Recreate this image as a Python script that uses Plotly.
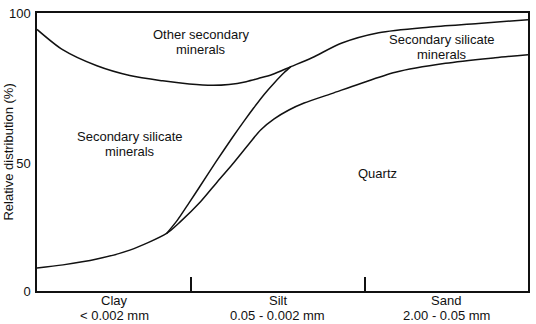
import plotly.graph_objects as go

# Boundary curves (x: relative position along particle-size axis 0-100, y: relative distribution %)
top_x = [0, 5.3, 12.2, 18.9, 25.6, 31.0, 35.7, 39.1, 42.6, 45.2, 47.9, 51.7, 56.0, 62.1, 69.6, 79.7, 89.9, 100]
top_y = [94.1, 86.7, 81.0, 77.5, 75.6, 74.5, 74.0, 74.3, 75.3, 76.5, 77.9, 80.7, 83.9, 89.2, 92.9, 94.9, 96.2, 97.6]

mid_x = [26.4, 28.6, 31.0, 33.1, 36.5, 39.8, 42.2, 44.2, 46.3, 48.5, 50.3, 51.7]
mid_y = [20.7, 25.5, 31.8, 37.4, 46.6, 55.2, 61.2, 66.0, 70.8, 75.2, 78.5, 80.7]

bot_x = [0, 5.3, 12.2, 18.9, 26.4, 29.0, 33.3, 36.5, 39.8, 43.2, 45.6, 48.3, 51.3, 54.4, 60.0, 65.5, 73.0, 83.2, 93.3, 100]
bot_y = [8.3, 9.4, 11.5, 14.7, 20.7, 24.6, 32.1, 38.8, 45.6, 53.0, 58.0, 61.9, 65.1, 67.6, 71.0, 74.4, 78.7, 81.9, 83.9, 85.0]

# Particle-size classes
class_names = ["Clay", "Silt", "Sand"]
class_ranges = ["&lt; 0.002 mm", "0.05 - 0.002 mm", "2.00 - 0.05 mm"]
class_edges = [0, 31.4, 66.7, 100]

# Region labels
region_text = ["Other secondary<br>minerals", "Secondary silicate<br>minerals",
               "Secondary silicate<br>minerals", "Quartz"]
region_x = [33.5, 18.9, 82.4, 69.4]
region_y = [89.7, 52.7, 87.8, 42.4]

y_tick_vals = [0, 46, 100]
y_tick_text = ["0", "50", "100"]

FONT = "Liberation Sans, Arial, sans-serif"
INK = "#111111"
LINE_GAP = 15

fig = go.Figure()
for xs, ys in [(top_x, top_y), (mid_x, mid_y), (bot_x, bot_y)]:
    fig.add_trace(go.Scatter(x=xs, y=ys, mode="lines",
                             line=dict(color=INK, width=1.5, shape="spline", smoothing=0.8),
                             hoverinfo="skip", showlegend=False))

annotations = []
for t, x, y in zip(region_text, region_x, region_y):
    lines = t.split("<br>")
    n = len(lines)
    for i, ln in enumerate(lines):
        annotations.append(dict(text=ln, x=x, y=y, xref="x", yref="y", showarrow=False,
                                yshift=(n - 1) / 2 * LINE_GAP - i * LINE_GAP,
                                font=dict(family=FONT, size=13, color=INK)))
for i, (nm, rg) in enumerate(zip(class_names, class_ranges)):
    cx = (class_edges[i] + class_edges[i + 1]) / 2
    annotations.append(dict(text=nm, x=cx, y=-0.034, xref="x", yref="paper",
                            showarrow=False, font=dict(family=FONT, size=13, color=INK),
                            yanchor="middle"))
    annotations.append(dict(text=rg, x=cx, y=-0.087, xref="x", yref="paper",
                            showarrow=False, font=dict(family=FONT, size=13, color=INK),
                            yanchor="middle"))
annotations.append(dict(text="Relative distribution (%)", x=-0.06, y=0.5, xref="paper", yref="paper",
                        textangle=-90, showarrow=False, xanchor="center", yanchor="middle",
                        font=dict(family=FONT, size=13, color=INK)))

fig.update_layout(
    width=536, height=324,
    margin=dict(l=37, r=6, t=9, b=33),
    paper_bgcolor="white", plot_bgcolor="white",
    annotations=annotations,
    showlegend=False,
)
fig.update_xaxes(range=[0, 100], showgrid=False, zeroline=False, showline=True, mirror=True,
                 linecolor=INK, linewidth=1.5, tickmode="array", tickvals=class_edges[1:-1],
                 ticks="inside", ticklen=14, tickwidth=1.5, tickcolor=INK,
                 showticklabels=False, fixedrange=True)
fig.update_yaxes(range=[0, 100], showgrid=False, zeroline=False, showline=True, mirror=True,
                 linecolor=INK, linewidth=1.5, tickmode="array", tickvals=y_tick_vals,
                 ticktext=y_tick_text, ticks="", ticklabelstandoff=2,
                 tickfont=dict(family=FONT, size=13, color=INK), fixedrange=True)

fig.write_html("out.html", config={"displayModeBar": False},
               post_script="document.body.style.margin='0';")
